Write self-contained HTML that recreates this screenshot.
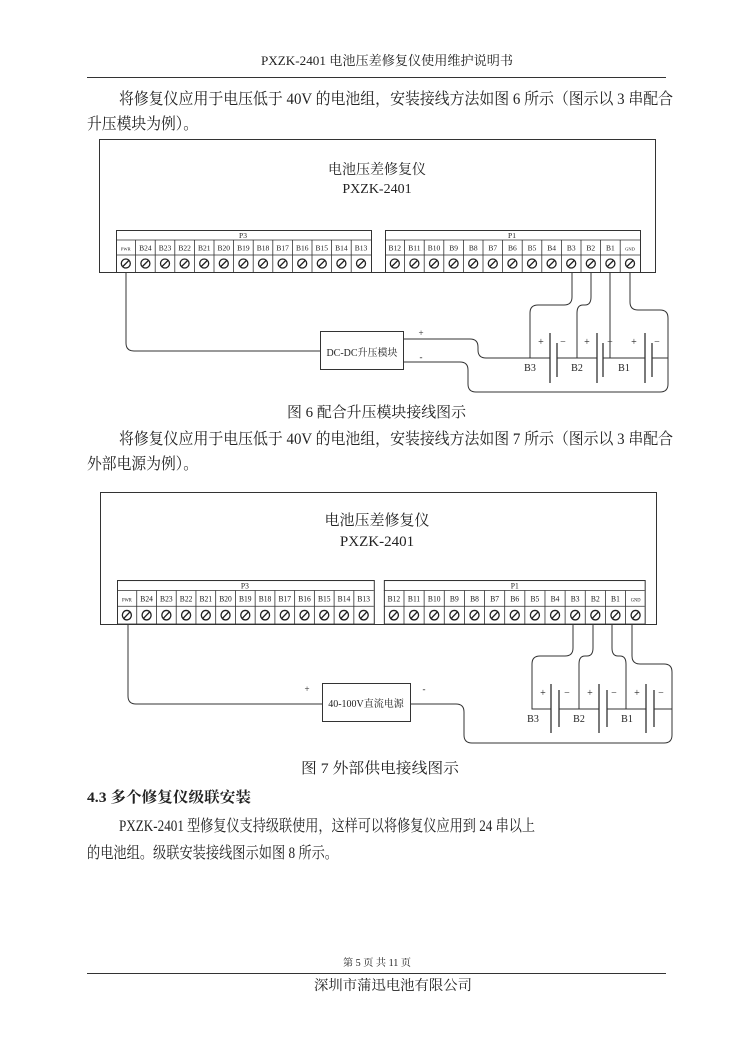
<!DOCTYPE html>
<html><head><meta charset="utf-8"><style>
html,body{margin:0;padding:0;background:#fff}
svg{display:block}
text{font-family:"Liberation Serif","Noto Serif CJK SC",serif;fill:#222}
</style></head><body>
<svg width="750" height="1061" viewBox="0 0 750 1061" xmlns="http://www.w3.org/2000/svg">
<!-- header -->
<text x="261" y="65" font-size="13" textLength="252" lengthAdjust="spacingAndGlyphs" font-family="Liberation Mono,Noto Sans CJK SC,monospace">PXZK-2401 电池压差修复仪使用维护说明书</text>
<line x1="87" y1="77.5" x2="666" y2="77.5" stroke="#333" stroke-width="1"/>
<text x="119" y="104" font-size="16" textLength="554" lengthAdjust="spacingAndGlyphs">将修复仪应用于电压低于 40V 的电池组，安装接线方法如图 6 所示（图示以 3 串配合</text>
<text x="87" y="129" font-size="16" textLength="111" lengthAdjust="spacingAndGlyphs">升压模块为例）。</text>

<g fill="none" stroke="#333" stroke-width="1">
<!-- FIG 6 -->
<rect x="99.5" y="139.5" width="556" height="133"/>
<path d="M126 272 V343 Q126 351 134 351 H320"/>
<rect x="320.5" y="331.5" width="83" height="38"/>
<path d="M404 339 H470 Q478 339 478 347 V350 Q478 358 486 358 H550"/>
<path d="M404 362 H460 Q468 362 468 370 V384 Q468 392 476 392 H660 Q668 392 668 384 V318 Q668 310 660 310 H638 Q630 310 630 302 V272"/>
<path d="M572 272 V297 Q572 305 564 305 H538 Q530 305 530 313 V358 H550"/>
<path d="M591 272 V297 Q591 305 585 305 H583 Q577 305 577 313 V358"/>
<path d="M610 272 V358"/>
<path d="M557 358 H597 M603 358 H645 M652 358 H668"/>
<path d="M550 333 V383 M597 333 V383 M645 333 V383" stroke-width="1.3"/>
<path d="M557 343 V377 M603 343 V377 M652 343 V377" stroke-width="1.3"/>

<!-- FIG 7 -->
<rect x="100.5" y="492.5" width="556" height="132"/>
<path d="M128 624 V696 Q128 704 136 704 H322"/>
<rect x="322.5" y="683.5" width="88" height="38"/>
<path d="M411 704 H456 Q464 704 464 712 V735 Q464 743 472 743 H664 Q672 743 672 735 V672 Q672 664 664 664 H640 Q632 664 632 656 V624"/>
<path d="M573 624 V648 Q573 656 565 656 H540 Q532 656 532 664 V709 H551"/>
<path d="M593 624 V648 Q593 656 587 656 H585 Q579 656 579 664 V709"/>
<path d="M612 624 V648 Q612 656 618 656 H620 Q626 656 626 664 V709"/>
<path d="M559 709 H599 M607 709 H646 M654 709 H672"/>
<path d="M551 684 V733 M599 684 V733 M646 684 V733" stroke-width="1.3"/>
<path d="M559 690 V727 M607 690 V727 M654 690 V727" stroke-width="1.3"/>
</g>

<text x="377" y="174" font-size="14" text-anchor="middle">电池压差修复仪</text>
<text x="377" y="193" font-size="14" text-anchor="middle">PXZK-2401</text>
<text x="362" y="356" font-size="10" text-anchor="middle">DC-DC升压模块</text>
<text x="421" y="336" font-size="9" text-anchor="middle">+</text>
<text x="421" y="360" font-size="9" text-anchor="middle">-</text>
<g font-size="10" text-anchor="middle">
<text x="530" y="371">B3</text><text x="577" y="371">B2</text><text x="624" y="371">B1</text>
<text x="541" y="345">+</text><text x="563" y="345">−</text>
<text x="587" y="345">+</text><text x="610" y="345">−</text>
<text x="634" y="345">+</text><text x="657" y="345">−</text>
</g>
<text x="287" y="417" font-size="15" textLength="179" lengthAdjust="spacingAndGlyphs">图 6   配合升压模块接线图示</text>
<text x="119" y="444" font-size="16" textLength="554" lengthAdjust="spacingAndGlyphs">将修复仪应用于电压低于 40V 的电池组，安装接线方法如图 7 所示（图示以 3 串配合</text>
<text x="87" y="469" font-size="16" textLength="111" lengthAdjust="spacingAndGlyphs">外部电源为例）。</text>

<text x="377" y="525" font-size="15" text-anchor="middle">电池压差修复仪</text>
<text x="377" y="546" font-size="15" text-anchor="middle">PXZK-2401</text>
<text x="366" y="707" font-size="10" text-anchor="middle">40-100V直流电源</text>
<text x="307" y="692" font-size="9" text-anchor="middle">+</text>
<text x="424" y="692" font-size="9" text-anchor="middle">-</text>
<g font-size="10" text-anchor="middle">
<text x="533" y="722">B3</text><text x="579" y="722">B2</text><text x="627" y="722">B1</text>
<text x="543" y="696">+</text><text x="567" y="696">−</text>
<text x="590" y="696">+</text><text x="614" y="696">−</text>
<text x="637" y="696">+</text><text x="661" y="696">−</text>
</g>
<text x="301" y="773" font-size="15" textLength="158" lengthAdjust="spacingAndGlyphs">图 7   外部供电接线图示</text>

<text x="87" y="802" font-size="15" font-weight="bold" textLength="164" lengthAdjust="spacingAndGlyphs">4.3 多个修复仪级联安装</text>
<text x="119" y="831" font-size="16" textLength="416" lengthAdjust="spacingAndGlyphs">PXZK-2401 型修复仪支持级联使用，这样可以将修复仪应用到 24 串以上</text>
<text x="87" y="858" font-size="16" textLength="251" lengthAdjust="spacingAndGlyphs">的电池组。级联安装接线图示如图  8  所示。</text>

<text x="343" y="966" font-size="10" textLength="68" lengthAdjust="spacingAndGlyphs">第 5 页   共 11 页</text>
<line x1="87" y1="973.5" x2="666" y2="973.5" stroke="#333" stroke-width="1"/>
<text x="314" y="990" font-size="14" textLength="158" lengthAdjust="spacingAndGlyphs">深圳市蒲迅电池有限公司</text>

<!-- terminal blocks -->
<g transform="translate(116,230)">
 <g fill="#fff" stroke="#333" stroke-width="1">
  <rect x="0.5" y="0.5" width="255" height="42"/>
  <rect x="269.5" y="0.5" width="255" height="42"/>
 </g>
 <g stroke="#333" stroke-width="0.8">
  <path d="M0 10H255 M0 25H255 M269 10H524 M269 25H524"/>
  <path d="M19.6 10V42 M39.2 10V42 M58.8 10V42 M78.4 10V42 M98 10V42 M117.6 10V42 M137.2 10V42 M156.8 10V42 M176.4 10V42 M196 10V42 M215.6 10V42 M235.2 10V42"/>
  <path d="M288.6 10V42 M308.2 10V42 M327.8 10V42 M347.4 10V42 M367 10V42 M386.6 10V42 M406.2 10V42 M425.8 10V42 M445.4 10V42 M465 10V42 M484.6 10V42 M504.2 10V42"/>
 </g>
 <g font-size="7.5" text-anchor="middle">
  <text x="127" y="8">P3</text><text x="396" y="8">P1</text>
  <text x="9.8" y="20.5" font-size="4.5">PWR</text><text x="29.4" y="20.5">B24</text><text x="49" y="20.5">B23</text><text x="68.6" y="20.5">B22</text><text x="88.2" y="20.5">B21</text><text x="107.8" y="20.5">B20</text><text x="127.4" y="20.5">B19</text><text x="147" y="20.5">B18</text><text x="166.6" y="20.5">B17</text><text x="186.2" y="20.5">B16</text><text x="205.8" y="20.5">B15</text><text x="225.4" y="20.5">B14</text><text x="245" y="20.5">B13</text>
  <text x="278.8" y="20.5">B12</text><text x="298.4" y="20.5">B11</text><text x="318" y="20.5">B10</text><text x="337.6" y="20.5">B9</text><text x="357.2" y="20.5">B8</text><text x="376.8" y="20.5">B7</text><text x="396.4" y="20.5">B6</text><text x="416" y="20.5">B5</text><text x="435.6" y="20.5">B4</text><text x="455.2" y="20.5">B3</text><text x="474.8" y="20.5">B2</text><text x="494.4" y="20.5">B1</text><text x="514" y="20.5" font-size="4.5">GND</text>
 </g>
 <g fill="none" stroke="#222" stroke-width="1.3">
  <circle cx="9.8" cy="33.5" r="4.5"/><circle cx="29.4" cy="33.5" r="4.5"/><circle cx="49" cy="33.5" r="4.5"/><circle cx="68.6" cy="33.5" r="4.5"/><circle cx="88.2" cy="33.5" r="4.5"/><circle cx="107.8" cy="33.5" r="4.5"/><circle cx="127.4" cy="33.5" r="4.5"/><circle cx="147" cy="33.5" r="4.5"/><circle cx="166.6" cy="33.5" r="4.5"/><circle cx="186.2" cy="33.5" r="4.5"/><circle cx="205.8" cy="33.5" r="4.5"/><circle cx="225.4" cy="33.5" r="4.5"/><circle cx="245" cy="33.5" r="4.5"/>
  <circle cx="278.8" cy="33.5" r="4.5"/><circle cx="298.4" cy="33.5" r="4.5"/><circle cx="318" cy="33.5" r="4.5"/><circle cx="337.6" cy="33.5" r="4.5"/><circle cx="357.2" cy="33.5" r="4.5"/><circle cx="376.8" cy="33.5" r="4.5"/><circle cx="396.4" cy="33.5" r="4.5"/><circle cx="416" cy="33.5" r="4.5"/><circle cx="435.6" cy="33.5" r="4.5"/><circle cx="455.2" cy="33.5" r="4.5"/><circle cx="474.8" cy="33.5" r="4.5"/><circle cx="494.4" cy="33.5" r="4.5"/><circle cx="514" cy="33.5" r="4.5"/>
  <path d="M12.8 30.5l-6 6 M32.4 30.5l-6 6 M52 30.5l-6 6 M71.6 30.5l-6 6 M91.2 30.5l-6 6 M110.8 30.5l-6 6 M130.4 30.5l-6 6 M150 30.5l-6 6 M169.6 30.5l-6 6 M189.2 30.5l-6 6 M208.8 30.5l-6 6 M228.4 30.5l-6 6 M248 30.5l-6 6"/>
  <path d="M281.8 30.5l-6 6 M301.4 30.5l-6 6 M321 30.5l-6 6 M340.6 30.5l-6 6 M360.2 30.5l-6 6 M379.8 30.5l-6 6 M399.4 30.5l-6 6 M419 30.5l-6 6 M438.6 30.5l-6 6 M458.2 30.5l-6 6 M477.8 30.5l-6 6 M497.4 30.5l-6 6 M517 30.5l-6 6"/>
 </g>
</g>

<g transform="translate(117,580) scale(1.007,1.05)">
 <g fill="#fff" stroke="#333" stroke-width="1">
  <rect x="0.5" y="0.5" width="255" height="41.5"/>
  <rect x="265.5" y="0.5" width="259" height="41.5"/>
 </g>
 <g stroke="#333" stroke-width="0.8">
  <path d="M0 10H255 M0 25H255 M265 10H524 M265 25H524"/>
  <path d="M19.6 10V42 M39.2 10V42 M58.8 10V42 M78.4 10V42 M98 10V42 M117.6 10V42 M137.2 10V42 M156.8 10V42 M176.4 10V42 M196 10V42 M215.6 10V42 M235.2 10V42"/>
  <path d="M285 10V42 M305 10V42 M325 10V42 M345 10V42 M365 10V42 M385 10V42 M405 10V42 M425 10V42 M445 10V42 M465 10V42 M485 10V42 M505 10V42"/>
 </g>
 <g font-size="7.5" text-anchor="middle">
  <text x="127" y="8">P3</text><text x="395" y="8">P1</text>
  <text x="9.8" y="20.5" font-size="4.5">PWR</text><text x="29.4" y="20.5">B24</text><text x="49" y="20.5">B23</text><text x="68.6" y="20.5">B22</text><text x="88.2" y="20.5">B21</text><text x="107.8" y="20.5">B20</text><text x="127.4" y="20.5">B19</text><text x="147" y="20.5">B18</text><text x="166.6" y="20.5">B17</text><text x="186.2" y="20.5">B16</text><text x="205.8" y="20.5">B15</text><text x="225.4" y="20.5">B14</text><text x="245" y="20.5">B13</text>
  <text x="275" y="20.5">B12</text><text x="295" y="20.5">B11</text><text x="315" y="20.5">B10</text><text x="335" y="20.5">B9</text><text x="355" y="20.5">B8</text><text x="375" y="20.5">B7</text><text x="395" y="20.5">B6</text><text x="415" y="20.5">B5</text><text x="435" y="20.5">B4</text><text x="455" y="20.5">B3</text><text x="475" y="20.5">B2</text><text x="495" y="20.5">B1</text><text x="515" y="20.5" font-size="4.5">GND</text>
 </g>
 <g fill="none" stroke="#222" stroke-width="1.3">
  <circle cx="9.8" cy="33.5" r="4.5"/><circle cx="29.4" cy="33.5" r="4.5"/><circle cx="49" cy="33.5" r="4.5"/><circle cx="68.6" cy="33.5" r="4.5"/><circle cx="88.2" cy="33.5" r="4.5"/><circle cx="107.8" cy="33.5" r="4.5"/><circle cx="127.4" cy="33.5" r="4.5"/><circle cx="147" cy="33.5" r="4.5"/><circle cx="166.6" cy="33.5" r="4.5"/><circle cx="186.2" cy="33.5" r="4.5"/><circle cx="205.8" cy="33.5" r="4.5"/><circle cx="225.4" cy="33.5" r="4.5"/><circle cx="245" cy="33.5" r="4.5"/>
  <circle cx="275" cy="33.5" r="4.5"/><circle cx="295" cy="33.5" r="4.5"/><circle cx="315" cy="33.5" r="4.5"/><circle cx="335" cy="33.5" r="4.5"/><circle cx="355" cy="33.5" r="4.5"/><circle cx="375" cy="33.5" r="4.5"/><circle cx="395" cy="33.5" r="4.5"/><circle cx="415" cy="33.5" r="4.5"/><circle cx="435" cy="33.5" r="4.5"/><circle cx="455" cy="33.5" r="4.5"/><circle cx="475" cy="33.5" r="4.5"/><circle cx="495" cy="33.5" r="4.5"/><circle cx="515" cy="33.5" r="4.5"/>
  <path d="M12.8 30.5l-6 6 M32.4 30.5l-6 6 M52 30.5l-6 6 M71.6 30.5l-6 6 M91.2 30.5l-6 6 M110.8 30.5l-6 6 M130.4 30.5l-6 6 M150 30.5l-6 6 M169.6 30.5l-6 6 M189.2 30.5l-6 6 M208.8 30.5l-6 6 M228.4 30.5l-6 6 M248 30.5l-6 6"/>
  <path d="M278 30.5l-6 6 M298 30.5l-6 6 M318 30.5l-6 6 M338 30.5l-6 6 M358 30.5l-6 6 M378 30.5l-6 6 M398 30.5l-6 6 M418 30.5l-6 6 M438 30.5l-6 6 M458 30.5l-6 6 M478 30.5l-6 6 M498 30.5l-6 6 M518 30.5l-6 6"/>
 </g>
</g>
</svg>
</body></html>
